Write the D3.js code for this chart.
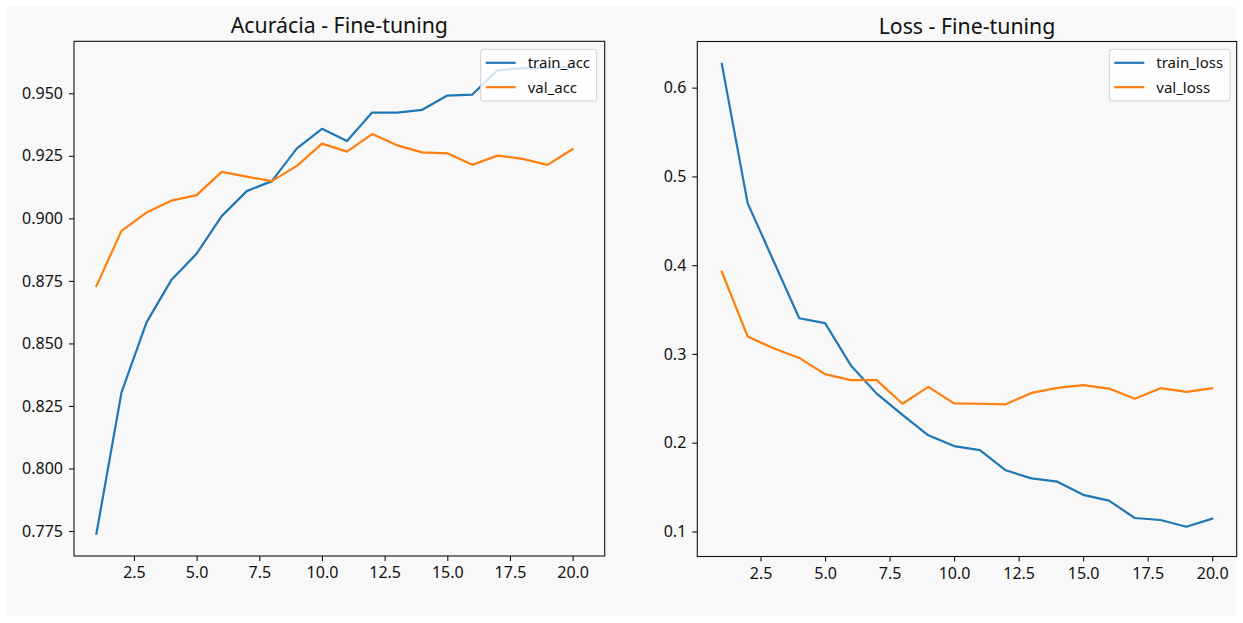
<!DOCTYPE html>
<html>
<head>
<meta charset="utf-8">
<script src="https://cdn.jsdelivr.net/npm/d3@7"></script>
<style>
  html, body { margin: 0; padding: 0; background: #ffffff; }
  svg { display: block; }
  text { font-family: "Noto Sans", "DejaVu Sans", sans-serif; fill: #111; }
</style>
</head>
<body>
<svg id="chart" width="1243" height="623"></svg>
<script>
// ---- data ----
const epochs = [1,2,3,4,5,6,7,8,9,10,11,12,13,14,15,16,17,18,19,20];
const trainAcc = [0.7739,0.8303,0.8584,0.8755,0.8859,0.9009,0.9109,0.9149,0.9280,0.9358,0.9309,0.9423,0.9423,0.9434,0.9491,0.9495,0.9592,0.9600,0.9603,0.9605];
const valAcc   = [0.8729,0.8950,0.9023,0.9071,0.9093,0.9186,0.9167,0.9149,0.9210,0.9299,0.9267,0.9337,0.9292,0.9264,0.9260,0.9214,0.9251,0.9238,0.9214,0.9277];
const trainLoss = [0.6268,0.4699,0.4050,0.3402,0.3348,0.2871,0.2553,0.2314,0.2083,0.1962,0.1917,0.1689,0.1598,0.1561,0.1413,0.1348,0.1152,0.1129,0.1053,0.1144];
const valLoss   = [0.3926,0.3197,0.3064,0.2955,0.2773,0.2705,0.2705,0.2439,0.2629,0.2443,0.2439,0.2432,0.2561,0.2617,0.2648,0.2610,0.2496,0.2614,0.2572,0.2614];
const xTicks = [2.5,5.0,7.5,10.0,12.5,15.0,17.5,20.0];
const accTicks = [0.775,0.800,0.825,0.850,0.875,0.900,0.925,0.950];
const lossTicks = [0.1,0.2,0.3,0.4,0.5,0.6];
const titles = ["Acurácia - Fine-tuning", "Loss - Fine-tuning"];
const accLabels = ["train_acc","val_acc"];
const lossLabels = ["train_loss","val_loss"];
const colors = ["#1f77b4", "#ff7f0e"];

const FONT = '"Noto Sans", "DejaVu Sans", sans-serif';
const svg = d3.select("#chart");
svg.append("rect").attr("x",7).attr("y",7).attr("width",1229).attr("height",609).attr("fill","#f8f8f8");

function panel(cfg) {
  const g = svg.append("g");
  const x = d3.scaleLinear().domain(cfg.xDomain).range([cfg.left, cfg.right]);
  const y = d3.scaleLinear().domain(cfg.yDomain).range([cfg.bottom, cfg.top]);

  const line = d3.line().x((d,i)=>x(epochs[i])).y(d=>y(d));
  cfg.series.forEach((s,k)=>{
    g.append("path").datum(s).attr("d", line)
      .attr("fill","none").attr("stroke", colors[k]).attr("stroke-width",2.2)
      .attr("stroke-linejoin","round").attr("stroke-linecap","square");
  });

  const xa = g.append("g").attr("transform",`translate(0,${cfg.bottom})`)
    .call(d3.axisBottom(x).tickValues(xTicks).tickFormat(d3.format(".1f")).tickSize(5).tickPadding(6));
  const ya = g.append("g").attr("transform",`translate(${cfg.left},0)`)
    .call(d3.axisLeft(y).tickValues(cfg.yTicks).tickFormat(d3.format(cfg.yFmt)).tickSize(5).tickPadding(6));
  [xa, ya].forEach(a=>{
    a.attr("font-size", null).attr("font-family", null);
    a.select(".domain").remove();
    a.selectAll("line").attr("stroke","#111").attr("stroke-width",1.1);
    a.selectAll("text").style("font-size","16px").style("font-family",FONT).attr("fill","#111");
  });

  g.append("rect").attr("x",cfg.left).attr("y",cfg.top)
    .attr("width",cfg.right-cfg.left).attr("height",cfg.bottom-cfg.top)
    .attr("fill","none").attr("stroke","#111").attr("stroke-width",1.1);

  g.append("text").attr("x",(cfg.left+cfg.right)/2).attr("y",cfg.top-8)
    .attr("text-anchor","middle").style("font-size","21.3px").style("font-family",FONT).text(cfg.title);

  // legend
  const L = cfg.legend;
  g.append("rect").attr("x",L.x).attr("y",L.y).attr("width",L.w).attr("height",L.h)
    .attr("rx",3).attr("fill","#ffffff").attr("fill-opacity",0.8)
    .attr("stroke","#d0d0d0").attr("stroke-width",1);
  cfg.labels.forEach((lab,k)=>{
    const yy = L.y + 13.5 + k*24.4;
    g.append("line").attr("x1",L.x+5).attr("x2",L.x+35).attr("y1",yy).attr("y2",yy)
      .attr("stroke",colors[k]).attr("stroke-width",2.2);
    g.append("text").attr("x",L.x+47).attr("y",yy+5.5)
      .style("font-size","15px").style("font-family",FONT).text(lab);
  });
}

panel({
  left:74, right:604.7, top:41.3, bottom:556,
  xDomain:[0.107, 21.28], yDomain:[0.765, 0.9708],
  yTicks: accTicks, yFmt: ".3f",
  series:[trainAcc, valAcc], labels: accLabels, title: titles[0],
  legend:{x:480.7, y:49.3, w:116, h:51.7}
});
panel({
  left:697.3, right:1236.7, top:41.5, bottom:556.5,
  xDomain:[0.05, 20.95], yDomain:[0.0718, 0.652],
  yTicks: lossTicks, yFmt: ".1f",
  series:[trainLoss, valLoss], labels: lossLabels, title: titles[1],
  legend:{x:1109.3, y:49.3, w:120.7, h:51.7}
});
</script>
</body>
</html>
